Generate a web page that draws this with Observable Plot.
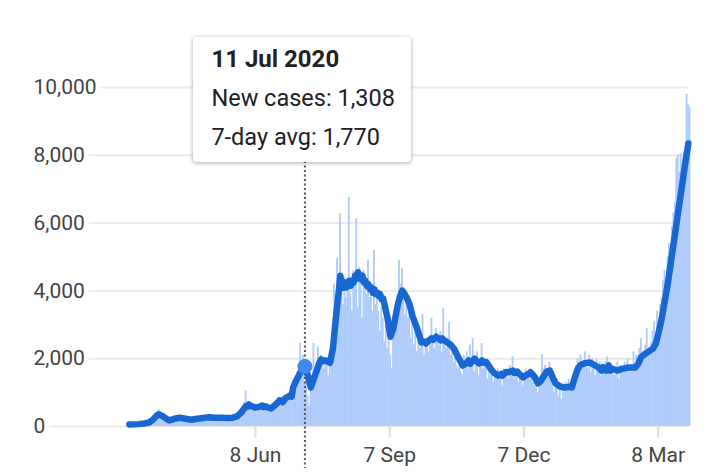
<!DOCTYPE html>
<html><head><meta charset="utf-8">
<script src="https://cdn.jsdelivr.net/npm/d3@7"></script>
<script src="https://cdn.jsdelivr.net/npm/@observablehq/plot@0.6"></script>
<style>
html,body{margin:0;padding:0;background:#fff;}
#wrap{position:relative;width:720px;height:473px;overflow:hidden;font-family:Roboto,sans-serif;}
#tip{position:absolute;top:37px;width:218px;height:125px;background:#fff;border-radius:4px;box-shadow:0 1px 4px rgba(0,0,0,0.35);box-sizing:border-box;color:#202124;font-family:Roboto,sans-serif;}
#tip div{position:absolute;left:18px;font-size:23.5px;line-height:23.5px;white-space:nowrap;}
</style></head><body><div id="wrap"></div><script>
const startDate = "2020-03-14";
const newCases = [
40,55,70,60,80,75,65,
70,85,90,100,120,95,130,
160,190,250,300,380,420,500,
330,280,260,210,220,170,160,
190,230,250,220,270,290,260,
240,220,250,190,180,230,200,
210,230,190,240,260,220,250,
240,280,260,290,250,270,280,
250,270,240,290,260,250,270,
240,270,230,260,280,250,240,
260,290,320,380,410,470,520,
580,700,1050,620,680,590,610,
540,600,620,480,560,640,590,
580,620,500,560,520,550,600,
640,700,780,850,760,820,900,
880,950,800,1000,980,1200,1350,
1300,1450,1600,1500,2450,1900,2100,
1308,1700,900,600,1200,1500,2450,
1600,1900,2350,1800,2100,1900,1700,
2000,1850,1500,2100,2400,3000,4200,
3900,4950,3700,6280,4500,3600,4400,
3800,4300,6760,3900,3400,4600,4200,
6130,3500,4700,4400,3200,4600,4300,
3900,4900,3800,4200,3400,5190,3600,
4100,3400,2800,3500,3200,2500,3000,
2300,2700,2100,1700,3100,3400,3700,
3900,4900,4200,4660,4000,3300,3800,
3200,3400,2600,3100,2400,2800,2200,
2700,2300,2500,3300,2100,2600,2400,
2200,2700,3190,2500,2300,2900,2600,
2400,2800,2200,3480,2500,2300,2600,
3070,2100,2400,1900,2300,1800,1700,
1900,1600,1500,2100,1800,2200,1700,
2400,1800,2600,1600,2000,2200,1500,
1900,2450,1700,2000,1800,1400,1700,
1500,1800,1300,1600,1400,1700,1500,
1600,1200,1700,1500,1700,1400,1800,
1600,2060,1400,1700,1500,1300,1600,
1400,1200,1500,1700,1600,1400,1500,
1600,1300,1200,1400,1000,1300,1500,
2120,1700,1800,1500,1600,1900,1400,
1300,1000,1200,1400,900,1100,800,
1200,1000,1300,1100,1400,1200,1100,
1300,1600,1800,2000,1700,2100,1900,
1800,2200,1900,1700,2100,1600,2000,
1800,1500,2000,1700,1900,1500,1800,
1600,1900,2050,1700,1900,1600,1800,
1500,1700,1900,1400,1800,1700,1600,
1900,1700,2000,1800,1600,1700,2200,
1800,2100,1900,2300,2600,2200,2000,
2400,2900,2100,2300,2500,2800,3100,
2700,3400,3100,3600,3800,4300,4600,
4400,5000,5400,5300,5900,6300,6600,
7900,8000,7500,8050,7800,8100,8000,
9800,9500,9400
];
const avgDay = [0,6,10,13,16,18,19,20,21,22,24,27,30,34,38,42,46,50,54,58,62,66,70,73,76,79,80,81,82,83,85,88,90,91,92,94,96,99,102,104,106,109,110,111,113,116,119,121,123,125,127,129,130,131,133,136,138,140,142,143,144,145,146,147,148,149,150,151,152,153,154,155,156,157,158,159,160,161,162,163,164,165,166,167,168,169,170,171,172,175,177,179,182,184,185,186,188,190,192,195,198,200,201,203,205,206,208,209,211,212,214,215,218,220,223,226,228,230,231,233,234,236,237,239,240,242,245,247,250,252,253,255,257,260,261,263,265,267,269,270,272,274,275,277,279,280,283,285,287,289,292,295,298,300,302,304,306,309,312,315,318,320,321,322,323,325,326,327,329,331,334,337,340,343,345,347,350,353,355,357,359,361,363,365,367,369,371,373,375,377,379];
const avgValue = [60,70,90,110,200,300,340,360,330,320,260,180,220,260,230,200,230,250,270,260,260,250,260,300,420,600,580,650,610,600,560,580,620,570,600,560,530,640,770,720,840,910,880,1150,1350,1600,1770,1500,1150,1400,1650,1900,1980,1920,1950,1880,2300,3200,4000,4450,4150,4100,4250,4100,4150,4300,4150,4300,4250,4450,4350,4550,4450,4350,4450,4250,4300,4150,4200,4050,4100,3950,4050,3900,3950,3850,3900,3750,3780,3200,2650,2900,3600,3900,4010,3950,3800,3600,3250,2900,2480,2500,2450,2540,2600,2560,2650,2620,2540,2600,2520,2500,2400,2300,2040,1800,1850,1950,1850,1950,2000,1900,1860,1950,1880,1900,1700,1590,1500,1550,1500,1600,1600,1650,1580,1620,1520,1450,1520,1530,1600,1500,1450,1270,1350,1420,1620,1650,1450,1270,1180,1150,1170,1150,1450,1700,1820,1870,1890,1820,1740,1650,1750,1680,1650,1800,1650,1700,1680,1650,1700,1730,1740,1740,1850,2050,2150,2240,2300,2450,2800,3200,3700,4200,4800,5400,6000,6600,7200,7800,8350];
const yTicks = [0, 2000, 4000, 6000, 8000, 10000];
const xTicks = ["2020-06-08", "2020-09-07", "2020-12-07", "2021-03-08"];
const tipDate = "2020-07-11";
const tipTitle = "11 Jul 2020";
const tipCases = 1308;
const tipAvg = 1770;

const parse = d3.utcParse("%Y-%m-%d");
const DAY = 864e5;
const t0 = parse(startDate);
const days = newCases.map((v, i) => ({date: new Date(+t0 + i * DAY), value: v}));
const avg = avgDay.map((d, i) => ({date: new Date(+t0 + d * DAY + DAY / 2), value: avgValue[i]}));
const tipMid = new Date(+parse(tipDate) + DAY / 2);
const fmt = d3.format(",");

const chart = Plot.plot({
  width: 720, height: 473,
  marginLeft: 36, marginRight: 32, marginTop: 87, marginBottom: 47,
  style: {fontFamily: "Roboto", fontSize: "21px", background: "#fff", overflow: "visible"},
  x: {type: "utc", domain: [new Date(Date.UTC(2020, 0, 11, 12)), new Date(Date.UTC(2021, 2, 28, 14))]},
  y: {domain: [0, 10000], axis: null},
  marks: [
    Plot.ruleY(yTicks, {stroke: "#ebebeb", strokeWidth: 2}),
    Plot.axisX({ticks: xTicks.map(parse), tickFormat: d3.utcFormat("%-d %b"), tickSize: 12, tickPadding: 9,
      stroke: "#e0e0e0", strokeWidth: 2, fill: "#444", fontSize: 21, label: null}),
    Plot.rectY(days, {x: "date", y: "value", interval: "day", fill: "#aecbfa", insetLeft: 0, insetRight: -0.35}),
    Plot.line(avg, {x: "date", y: "value", stroke: "#1967d2", strokeWidth: 6.5, strokeLinejoin: "round", strokeLinecap: "round"}),
    Plot.ruleX([tipMid], {stroke: "#555", strokeWidth: 2, strokeDasharray: "2 2.5", insetTop: 74, insetBottom: -42}),
    Plot.dot([{date: tipMid, value: tipAvg}], {x: "date", y: "value", r: 7.5, fill: "#4285f4"}),
    Plot.text(yTicks, {y: d => d, text: d => fmt(d), frameAnchor: "left", textAnchor: "start", dx: -3,
      fill: "#444", stroke: "#fff", strokeWidth: 10, paintOrder: "stroke", fontSize: 21})
  ]
});
const wrap = document.getElementById("wrap");
wrap.appendChild(chart);
const xpos = chart.scale("x").apply(tipMid);
const tip = document.createElement("div");
tip.id = "tip";
tip.style.left = (xpos - 111) + "px";
tip.innerHTML = `<div style="top:9.8px;font-weight:bold;font-size:24px;line-height:24px">${tipTitle}</div>
<div style="top:50.2px">New cases: ${fmt(tipCases)}</div>
<div style="top:89.2px">7-day avg: ${fmt(tipAvg)}</div>`;
wrap.appendChild(tip);
</script></body></html>
